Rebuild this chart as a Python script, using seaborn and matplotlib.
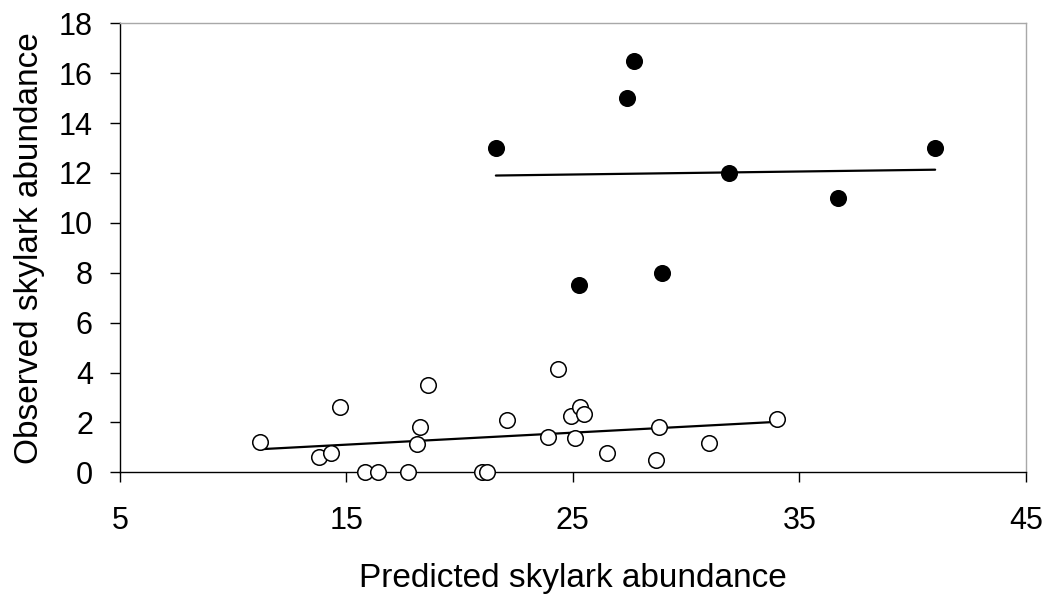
import matplotlib
matplotlib.use("Agg")
import matplotlib.pyplot as plt
import seaborn as sns
import pandas as pd

# Sites with low observed abundance (open circles)
low_predicted = [11.2, 14.7, 13.8, 14.3, 15.8, 16.4, 17.7, 18.25, 18.1, 18.6,
                 21.0, 21.2, 22.1, 24.35, 23.9, 25.1, 24.9, 25.3, 25.5, 26.5,
                 28.65, 28.8, 31.0, 34.0]
low_observed = [1.23, 2.63, 0.63, 0.76, 0.0, 0.0, 0.0, 1.83, 1.13, 3.49,
                0.0, 0.0, 2.08, 4.13, 1.43, 1.39, 2.25, 2.63, 2.34, 0.76,
                0.49, 1.83, 1.19, 2.14]

# Sites with high observed abundance (filled circles)
high_predicted = [21.6, 25.25, 27.4, 27.7, 28.95, 31.9, 36.7, 41.0]
high_observed = [13.0, 7.5, 15.0, 16.5, 8.0, 12.0, 11.0, 13.0]

x_ticks = [5, 15, 25, 35, 45]
y_ticks = [0, 2, 4, 6, 8, 10, 12, 14, 16, 18]

low = pd.DataFrame({"predicted": low_predicted, "observed": low_observed})
high = pd.DataFrame({"predicted": high_predicted, "observed": high_observed})

sns.set_style("white")
plt.rcParams["font.family"] = ["Liberation Sans", "DejaVu Sans"]
plt.rcParams.update({"text.color": "black", "axes.labelcolor": "black",
                     "xtick.color": "black", "ytick.color": "black"})

fig = plt.figure(figsize=(10.49, 5.95), dpi=100)
ax = fig.add_axes([0.1144, 0.2062, 0.8634, 0.7546])

for df, face in ((low, "white"), (high, "black")):
    sns.regplot(data=df, x="predicted", y="observed", ax=ax, ci=None,
                scatter=False, truncate=True,
                line_kws={"color": "black", "linewidth": 1.6, "zorder": 2})
    sns.scatterplot(data=df, x="predicted", y="observed", ax=ax,
                    s=125, color=face, edgecolor="black", linewidth=1.1,
                    zorder=3, legend=False, clip_on=False)

ax.set_xlim(5, 45)
ax.set_ylim(0, 18)
ax.set_xticks(x_ticks)
ax.set_yticks(y_ticks)
ax.tick_params(axis="both", labelsize=22, direction="out", length=7.5,
               width=1.0, color="black", labelcolor="black",
               bottom=True, left=True)
ax.tick_params(axis="x", pad=17)
ax.tick_params(axis="y", pad=12)

for side in ("left", "bottom"):
    ax.spines[side].set_color("black")
    ax.spines[side].set_linewidth(1.0)
for side in ("top", "right"):
    ax.spines[side].set_color("#a8a8a8")
    ax.spines[side].set_linewidth(1.0)

ax.set_xlabel("Predicted skylark abundance", fontsize=24, labelpad=19,
              color="black")
ax.set_ylabel("Observed skylark abundance", fontsize=24, labelpad=10,
              color="black")
ax.grid(False)

fig.savefig("out.png", dpi=100)
